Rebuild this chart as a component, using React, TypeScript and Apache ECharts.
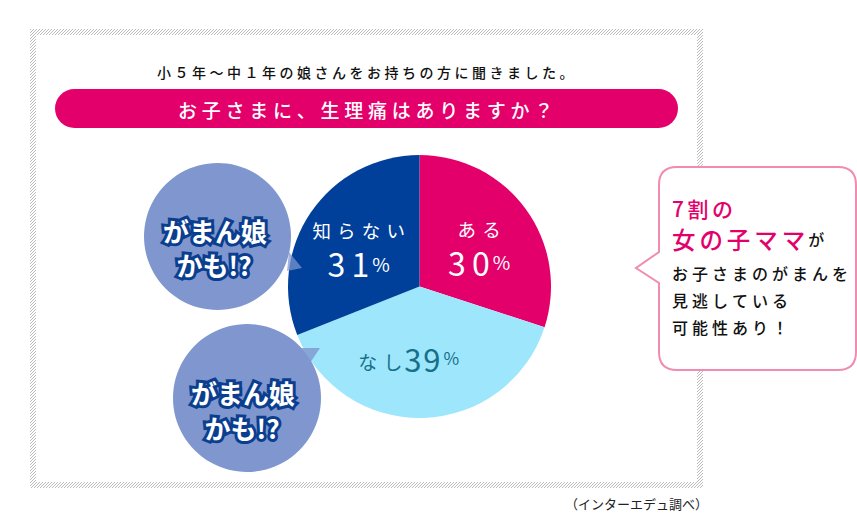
import React, { useEffect, useRef } from "react";
import * as echarts from "echarts";

const categories = ["ある", "なし", "知らない"];
const values = [30, 39, 31];
const sliceColors = ["#E4006B", "#9EE6FC", "#00409B"];

const subtitle = "小５年〜中１年の娘さんをお持ちの方に聞きました。";
const question = "お子さまに、生理痛はありますか？";
const bubbleLine1 = "がまん娘";
const bubbleLine2 = "かも!?";
const calloutPink1 = "7割の";
const calloutPink2 = "女の子ママ";
const calloutSuffix = "が";
const calloutLines = ["お子さまのがまんを", "見逃している", "可能性あり！"];
const sourceNote = "（インターエデュ調べ）";

const FONT = "'Noto Sans CJK JP', 'Noto Sans', sans-serif";
const sp = (s: string, c: string) => Array.from(s).join(c);
const Q = "\u2005"; // quarter-em space
const T = "\u2004"; // third-em space
const H = "\u2009"; // thin space
const HH = "\u200A"; // hair space

const hatch =
  "data:image/svg+xml;utf8," +
  encodeURIComponent(
    "<svg xmlns='http://www.w3.org/2000/svg' width='3' height='3'><rect width='3' height='3' fill='#ffffff'/><path d='M0 3L3 0' stroke='#bcbcbc' stroke-width='1'/></svg>"
  );

const calloutPath =
  "M677,167 H838 Q856,167 856,185 V352 Q856,370 838,370 H677 Q659,370 659,352 V283 L636,268 L659,252 V185 Q659,167 677,167 Z";

export default function App() {
  const ref = useRef<HTMLDivElement>(null);
  useEffect(() => {
    if (!ref.current) return;
    try {
      echarts.graphic.registerShape(
        "callout",
        echarts.graphic.extendPath(calloutPath, {})
      );
    } catch (e) {}
    const chart = echarts.init(ref.current, undefined, { renderer: "svg" });

    const labelFor = (i: number) => {
      const name = categories[i];
      const v = String(values[i]);
      if (i === 1) {
        return {
          show: true,
          position: "inside",
          padding: [6, 26, 0, 0],
          formatter: `{n|${sp(name, T)}}{s| }{v|${sp(v, HH)}}{p|%}`,
          rich: {
            n: { fontSize: 19, color: "#17708A", fontFamily: FONT, verticalAlign: "bottom", padding: [0, 0, 3, 0] },
            s: { fontSize: 6 },
            v: { fontSize: 31, color: "#17708A", fontFamily: FONT, fontWeight: "normal" },
            p: { fontSize: 17, color: "#17708A", fontFamily: FONT, padding: [0, 0, 2, 3] },
          },
        };
      }
      return {
        show: true,
        position: "inside",
        padding: i === 0 ? [0, 0, 0, 8] : [0, 8, 0, 0],
        formatter: `{n|${sp(name, T)}}\n{v|${sp(v, H)}}{p|%}`,
        rich: {
          n: { fontSize: 18.5, color: "#ffffff", fontFamily: FONT, lineHeight: 31, align: "center" },
          v: { fontSize: 32, color: "#ffffff", fontFamily: FONT, fontWeight: "normal", lineHeight: 35 },
          p: { fontSize: 19, color: "#ffffff", fontFamily: FONT, padding: [0, 0, 0, 3], lineHeight: 35 },
        },
      };
    };

    const triColor = "#7F97CE";
    const bubbleText = (x: number, y: number, t: string) => ({
      type: "text", z: 6, x, y,
      style: { text: t, font: `bold 26px ${FONT}`, fill: "#ffffff", stroke: "#0B3E8F", lineWidth: 6, textAlign: "center", textVerticalAlign: "middle" },
    });

    chart.setOption({
      animation: false,
      series: [
        {
          type: "pie",
          center: [419.5, 286.5],
          radius: 131.5,
          startAngle: 90,
          clockwise: true,
          silent: true,
          z: 2,
          labelLine: { show: false },
          itemStyle: { borderWidth: 0 },
          data: categories.map((c, i) => ({
            name: c,
            value: values[i],
            itemStyle: { color: sliceColors[i] },
            label: labelFor(i),
          })),
        },
      ],
      graphic: [
        // frame
        { type: "rect", z: -10, shape: { x: 30, y: 29, width: 673, height: 459 },
          style: { fill: { image: hatch, repeat: "repeat", imageWidth: 3, imageHeight: 3 } as any } },
        { type: "rect", z: -9, shape: { x: 36, y: 35, width: 661, height: 447 }, style: { fill: "#ffffff" } },
        // subtitle
        { type: "text", x: 157, y: 72, style: { text: sp(subtitle, Q), font: `500 14px ${FONT}`, fill: "#111", textVerticalAlign: "middle" } },
        // pill
        { type: "rect", shape: { x: 55, y: 89, width: 623, height: 39, r: 19.5 }, style: { fill: "#E4006B" } },
        { type: "text", x: 178, y: 109, style: { text: sp(question, Q), font: `500 19px ${FONT}`, fill: "#ffffff", textVerticalAlign: "middle" } },
        // bubbles
        { type: "circle", z: 5, shape: { cx: 217.5, cy: 236.5, r: 73.5 }, style: { fill: "#7F97CE" } },
        { type: "polygon", z: 5, shape: { points: [[289, 252], [302, 268], [287, 271]] }, style: { fill: triColor, opacity: 0.72 } },
        { type: "circle", z: 5, shape: { cx: 247, cy: 398, r: 74 }, style: { fill: "#7F97CE" } },
        { type: "polygon", z: 5, shape: { points: [[299, 348], [320, 348], [310, 363]] }, style: { fill: triColor, opacity: 0.82 } },
        bubbleText(215, 230, bubbleLine1),
        bubbleText(214, 264, bubbleLine2),
        bubbleText(243, 392, bubbleLine1),
        bubbleText(242, 427, bubbleLine2),
        // callout
        { type: "callout", z: 7, x: 0, y: 0, style: { fill: "#ffffff", stroke: "#F28BB1", lineWidth: 2 } },
        { type: "text", z: 8, x: 672, y: 208, style: { text: sp(calloutPink1, "\u2006"), font: `500 21px ${FONT}`, fill: "#E4006B", textVerticalAlign: "middle", lineHeight: 22 } },
        { type: "text", z: 8, x: 672, y: 239, style: {
          rich: {
            a: { fontSize: 23.5, fontFamily: FONT, fontWeight: 500, fill: "#E4006B", lineHeight: 25 },
            b: { fontSize: 16, fontFamily: FONT, fontWeight: 500, fill: "#111", padding: [0, 0, 0, 3], lineHeight: 25 },
          },
          text: `{a|${sp(calloutPink2, "\u2006")}}{b|${calloutSuffix}}`, textVerticalAlign: "middle" } },
        ...calloutLines.map((t, i) => ({
          type: "text", z: 8, x: 672, y: 273 + i * 27,
          style: { text: sp(t, Q), font: `500 16px ${FONT}`, fill: "#111", textVerticalAlign: "middle" },
        })),
        // source
        { type: "text", x: 565, y: 503, style: { text: sourceNote, font: `13px ${FONT}`, fill: "#222", textVerticalAlign: "middle" } },
      ],
    });
    return () => chart.dispose();
  }, []);
  return <div ref={ref} style={{ position: "absolute", left: 0, top: 0, width: 857, height: 521 }} />;
}
